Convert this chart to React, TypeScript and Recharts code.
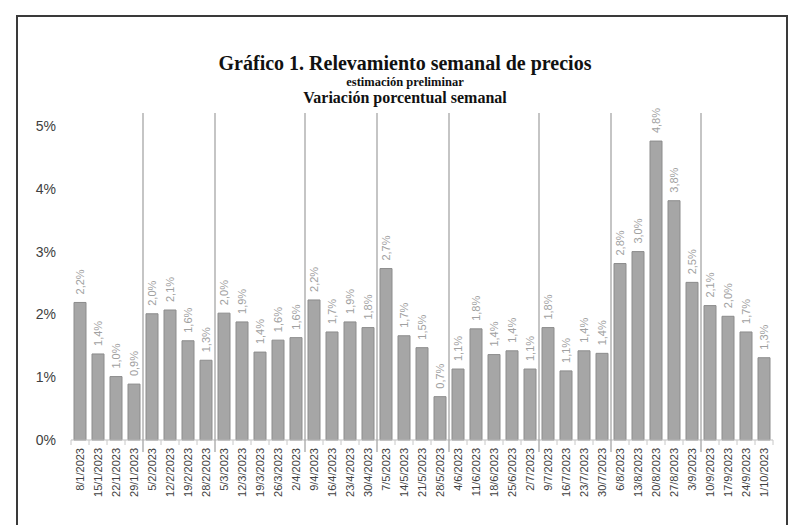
import { BarChart, Bar, XAxis, YAxis, LabelList } from "recharts";

const weeks = [
  "8/1/2023", "15/1/2023", "22/1/2023", "29/1/2023",
  "5/2/2023", "12/2/2023", "19/2/2023", "28/2/2023",
  "5/3/2023", "12/3/2023", "19/3/2023", "26/3/2023", "2/4/2023",
  "9/4/2023", "16/4/2023", "23/4/2023", "30/4/2023",
  "7/5/2023", "14/5/2023", "21/5/2023", "28/5/2023",
  "4/6/2023", "11/6/2023", "18/6/2023", "25/6/2023", "2/7/2023",
  "9/7/2023", "16/7/2023", "23/7/2023", "30/7/2023",
  "6/8/2023", "13/8/2023", "20/8/2023", "27/8/2023", "3/9/2023",
  "10/9/2023", "17/9/2023", "24/9/2023", "1/10/2023",
];

const variation = [
  2.19, 1.37, 1.01, 0.89,
  2.01, 2.07, 1.58, 1.27,
  2.02, 1.88, 1.4, 1.59, 1.63,
  2.23, 1.72, 1.88, 1.79,
  2.73, 1.66, 1.47, 0.69,
  1.13, 1.77, 1.36, 1.42, 1.13,
  1.79, 1.1, 1.42, 1.38,
  2.81, 3.0, 4.76, 3.81, 2.51,
  2.14, 1.97, 1.72, 1.31,
];

// first week of each new month block (a divider line goes before it)
const blockStarts = ["5/2/2023", "5/3/2023", "9/4/2023", "7/5/2023", "4/6/2023", "9/7/2023", "6/8/2023", "10/9/2023"];

const yTicks = [0, 1, 2, 3, 4, 5];

const data = weeks.map((w, i) => ({ week: w, value: variation[i] }));

const PLOT_TOP = 126;
const PLOT_BOTTOM = 440;
const BAND = 18;

const fmt = (v: number) => v.toFixed(1).replace(".", ",") + "%";

function WeekTick(props: any) {
  const { x, y, payload, index } = props;
  const left = x - BAND / 2;
  const isStart = blockStarts.includes(payload.value);
  const plotH = PLOT_BOTTOM - PLOT_TOP;
  return (
    <g>
      {isStart ? (
        <line x1={left} x2={left} y1={y - plotH - 13} y2={y + 12} stroke="#a6a6a6" strokeWidth={1.3} />
      ) : (
        <line x1={left} x2={left} y1={y} y2={y + 5} stroke="#c8c8c8" />
      )}
      {index === weeks.length - 1 && <line x1={x + BAND / 2} x2={x + BAND / 2} y1={y} y2={y + 5} stroke="#c8c8c8" />}
      <text
        x={x}
        y={y + 8}
        transform={`rotate(-90 ${x} ${y + 8})`}
        textAnchor="end"
        dominantBaseline="central"
        fontSize={11}
        fill="#404040"
        fontFamily="Liberation Sans, Arial, sans-serif"
      >
        {payload.value}
      </text>
    </g>
  );
}

function ValueLabel(props: any) {
  const { x, y, width, value } = props;
  const cx = x + width / 2;
  const ty = y - 8;
  return (
    <text
      x={cx}
      y={ty}
      transform={`rotate(-90 ${cx} ${ty})`}
      textAnchor="start"
      dominantBaseline="central"
      fontSize={11}
      fill="#a0a0a0"
      fontFamily="Liberation Sans, Arial, sans-serif"
    >
      {fmt(value)}
    </text>
  );
}

export default function App() {
  return (
    <div style={{ position: "absolute", left: 0, top: 0, width: 796, height: 525, overflow: "hidden", background: "#fff" }}>
      <div
        style={{
          position: "absolute",
          left: 16,
          top: 15,
          width: 768,
          height: 520,
          border: "2px solid #3a3a3a",
        }}
      />
      <div style={{ position: "absolute", left: 0, width: 810, top: 51, textAlign: "center", fontFamily: "Liberation Serif, serif", fontWeight: 700, color: "#111" }}>
        <div style={{ fontSize: 20, lineHeight: "24px" }}>Gráfico 1. Relevamiento semanal de precios</div>
        <div style={{ fontSize: 12.5, lineHeight: "14px", marginTop: 0 }}>estimación preliminar</div>
        <div style={{ fontSize: 16, lineHeight: "18px" }}>Variación porcentual semanal</div>
      </div>
      <div style={{ position: "absolute", left: 0, top: 0 }}>
        <BarChart
          width={796}
          height={525}
          data={data}
          margin={{ top: PLOT_TOP, right: 796 - 71 - BAND * weeks.length, bottom: 5, left: 0 }}
          barSize={12}
        >
          <XAxis
            dataKey="week"
            interval={0}
            height={525 - PLOT_BOTTOM - 5}
            tickSize={0}
            tickMargin={0}
            tickLine={false}
            axisLine={{ stroke: "#bfbfbf" }}
            tick={<WeekTick />}
          />
          <YAxis
            width={71}
            domain={[0, 5]}
            ticks={yTicks}
            axisLine={false}
            tickLine={false}
            tickSize={0}
            tickMargin={15}
            tickFormatter={(v: number) => `${v}%`}
            tick={{ fontSize: 14, fill: "#404040", fontFamily: "Liberation Sans, Arial, sans-serif" }}
          />
          <Bar dataKey="value" fill="#a6a6a6" stroke="#8c8c8c" strokeWidth={1} isAnimationActive={false}>
            <LabelList dataKey="value" content={<ValueLabel />} />
          </Bar>
        </BarChart>
      </div>
    </div>
  );
}
